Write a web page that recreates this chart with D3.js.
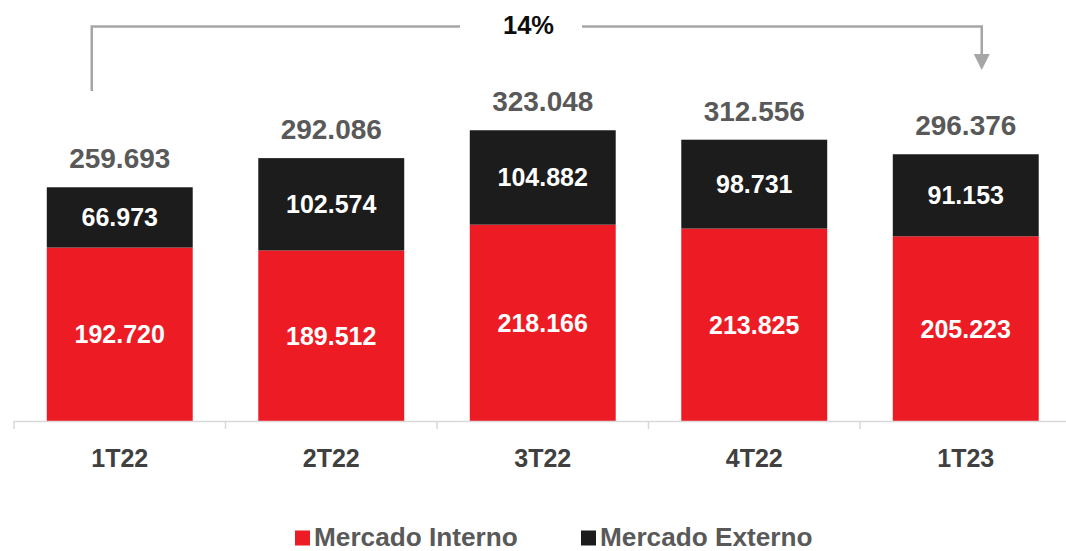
<!DOCTYPE html>
<html><head><meta charset="utf-8">
<script src="https://cdn.jsdelivr.net/npm/d3@7"></script>
<style>body{margin:0;background:#fff}svg{display:block;font-family:"Liberation Sans",Arial,sans-serif;font-weight:bold}</style>
</head><body><svg id="c" width="1066" height="551"></svg>
<script>
const categories = ["1T22","2T22","3T22","4T22","1T23"];
const mercadoInterno = [192.720,189.512,218.166,213.825,205.223];
const mercadoExterno = [66.973,102.574,104.882,98.731,91.153];
const totals = [259.693,292.086,323.048,312.556,296.376];
const seriesNames = ["Mercado Interno","Mercado Externo"];
const growthLabel = "14%";
const fmt = v => v.toFixed(3);

const colors = {"Mercado Interno":"#ED1C24","Mercado Externo":"#1C1C1C"};
const svg = d3.select("#c");
const x = d3.scaleBand().domain(categories).range([14,1071.5]).paddingInner(0.31).paddingOuter(0.155);
const y = d3.scaleLinear().domain([0,350]).range([421,106]);

const data = categories.map((c,i)=>({cat:c,"Mercado Interno":mercadoInterno[i],"Mercado Externo":mercadoExterno[i],total:totals[i]}));
const stack = d3.stack().keys(seriesNames)(data);

const g = svg.append("g");
stack.forEach(layer=>{
  g.selectAll(null).data(layer).enter().append("rect")
   .attr("x",d=>x(d.data.cat)).attr("width",x.bandwidth())
   .attr("y",d=>y(d[1])).attr("height",d=>y(d[0])-y(d[1]))
   .attr("fill",colors[layer.key]);
  g.selectAll(null).data(layer).enter().append("text")
   .attr("x",d=>x(d.data.cat)+x.bandwidth()/2)
   .attr("y",d=>(y(d[0])+y(d[1]))/2+9)
   .attr("text-anchor","middle").attr("fill","#fff").attr("font-size",25)
   .text(d=>fmt(d[1]-d[0]));
});
// totals
g.selectAll(null).data(data).enter().append("text")
 .attr("x",d=>x(d.cat)+x.bandwidth()/2).attr("y",d=>y(d.total)-19)
 .attr("text-anchor","middle").attr("fill","#595959").attr("font-size",28)
 .text(d=>fmt(d.total));

// axis
svg.append("line").attr("x1",14).attr("x2",1066).attr("y1",421.5).attr("y2",421.5).attr("stroke","#D9D9D9").attr("stroke-width",1.5);
categories.forEach((c,i)=>{
  const tx = x(c)-x.step()*x.paddingInner()/2;
  svg.append("line").attr("x1",tx).attr("x2",tx).attr("y1",421).attr("y2",429).attr("stroke","#D9D9D9").attr("stroke-width",1.5);
});
svg.selectAll(null).data(categories).enter().append("text")
 .attr("x",d=>x(d)+x.bandwidth()/2).attr("y",467)
 .attr("text-anchor","middle").attr("fill","#404040").attr("font-size",25).text(d=>d);

// bracket arrow
const bx1 = x(categories[0])+x.bandwidth()/2-28;
const bx2 = x(categories[categories.length-1])+x.bandwidth()/2+16;
const by = 26.5;
const gray = "#A6A6A6";
svg.append("path").attr("d",`M${bx1},91 V${by} H460`).attr("fill","none").attr("stroke",gray).attr("stroke-width",2.5);
svg.append("path").attr("d",`M582,${by} H${bx2} V56`).attr("fill","none").attr("stroke",gray).attr("stroke-width",2.5);
svg.append("path").attr("d",`M${bx2-8},54 L${bx2+8},54 L${bx2},70 Z`).attr("fill",gray);
svg.append("text").attr("x",528.5).attr("y",34).attr("text-anchor","middle").attr("fill","#0d0d0d").attr("font-size",25.5).text(growthLabel);

// legend
const legX = [295,581];
seriesNames.forEach((s,i)=>{
  svg.append("rect").attr("x",legX[i]).attr("y",530.5).attr("width",15).attr("height",15).attr("fill",colors[s]);
  svg.append("text").attr("x",legX[i]+19).attr("y",545.5).attr("fill","#595959").attr("font-size",26.2).text(s);
});
</script></body></html>
